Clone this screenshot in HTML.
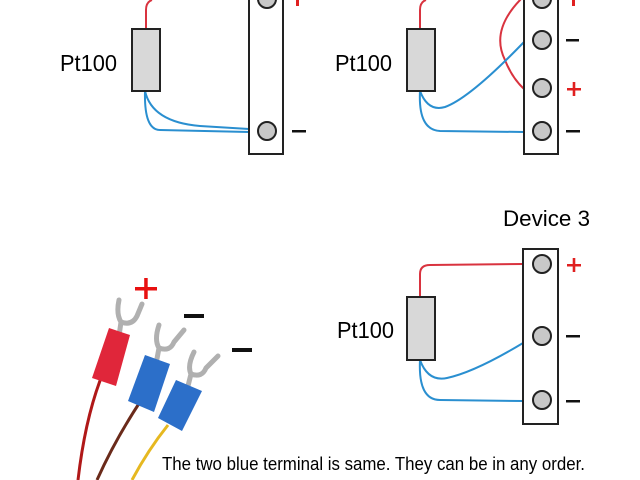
<!DOCTYPE html>
<html><head><meta charset="utf-8"><style>
html,body{margin:0;padding:0;background:#fff;}
svg{display:block;}
text{font-family:"Liberation Sans",sans-serif;}
</style></head><body>
<svg width="640" height="480" viewBox="0 0 640 480" xmlns="http://www.w3.org/2000/svg">
<rect width="640" height="480" fill="#fff"/>
<!-- Panel 1 -->
<path d="M146 29 V10 Q146 2 152 0" fill="none" stroke="#d9333f" stroke-width="2"/>
<path d="M145 91 Q152 122 200 126 L249 129" fill="none" stroke="#2a8fd0" stroke-width="2"/>
<path d="M145 91 Q144 130 160 130 L249 132" fill="none" stroke="#2a8fd0" stroke-width="2"/>
<rect x="132" y="29" width="28" height="62" fill="#d8d8d8" stroke="#222" stroke-width="2"/>
<text x="60" y="71" font-size="23" textLength="57" lengthAdjust="spacingAndGlyphs">Pt100</text>
<rect x="249" y="-5" width="34" height="159" fill="#fff" stroke="#222" stroke-width="2"/>
<circle cx="267" cy="-1" r="9" fill="#c8c8c8" stroke="#222" stroke-width="2"/>
<circle cx="267" cy="131" r="9" fill="#c8c8c8" stroke="#222" stroke-width="2"/>
<rect x="292" y="130" width="14" height="2.5" fill="#111"/>
<rect x="296" y="0" width="3" height="6" fill="#e02020"/>
<!-- Panel 2 -->
<path d="M420 29 V10 Q420 2 426 0" fill="none" stroke="#d9333f" stroke-width="2"/>
<path d="M522 -2 Q490 30 505 60 Q512 78 524 89" fill="none" stroke="#d9333f" stroke-width="2"/>
<path d="M420 91 Q428 112 445 107 Q470 98 524 42" fill="none" stroke="#2a8fd0" stroke-width="2"/>
<path d="M420 91 Q418 130 440 131 L524 132" fill="none" stroke="#2a8fd0" stroke-width="2"/>
<rect x="407" y="29" width="28" height="62" fill="#d8d8d8" stroke="#222" stroke-width="2"/>
<text x="335" y="71" font-size="23" textLength="57" lengthAdjust="spacingAndGlyphs">Pt100</text>
<rect x="524" y="-5" width="34" height="159" fill="#fff" stroke="#222" stroke-width="2"/>
<circle cx="542" cy="-1" r="9" fill="#c8c8c8" stroke="#222" stroke-width="2"/>
<circle cx="542" cy="40" r="9" fill="#c8c8c8" stroke="#222" stroke-width="2"/>
<circle cx="542" cy="88" r="9" fill="#c8c8c8" stroke="#222" stroke-width="2"/>
<circle cx="542" cy="131" r="9" fill="#c8c8c8" stroke="#222" stroke-width="2"/>
<rect x="566" y="39" width="13" height="2.5" fill="#111"/>
<rect x="566" y="130" width="14" height="2.5" fill="#111"/>
<rect x="567" y="88" width="14" height="2.5" fill="#e02020"/><rect x="572.7" y="82" width="2.6" height="14" fill="#e02020"/>
<rect x="572" y="0" width="3" height="6" fill="#e02020"/>
<!-- Panel 3 -->
<text x="503" y="226" font-size="22" textLength="87" lengthAdjust="spacingAndGlyphs">Device 3</text>
<path d="M420 297 V274 Q420 265 430 265 L523 264" fill="none" stroke="#d9333f" stroke-width="2"/>
<path d="M420 360 Q428 382 447 378 Q475 372 523 343" fill="none" stroke="#2a8fd0" stroke-width="2"/>
<path d="M420 360 Q418 400 440 400 L523 401" fill="none" stroke="#2a8fd0" stroke-width="2"/>
<rect x="407" y="297" width="28" height="63" fill="#d8d8d8" stroke="#222" stroke-width="2"/>
<text x="337" y="338" font-size="23" textLength="57" lengthAdjust="spacingAndGlyphs">Pt100</text>
<rect x="523" y="249" width="35" height="175" fill="#fff" stroke="#222" stroke-width="2"/>
<circle cx="542" cy="264" r="9" fill="#c8c8c8" stroke="#222" stroke-width="2"/>
<circle cx="542" cy="336" r="9" fill="#c8c8c8" stroke="#222" stroke-width="2"/>
<circle cx="542" cy="400" r="9" fill="#c8c8c8" stroke="#222" stroke-width="2"/>
<rect x="567" y="264" width="14" height="2.5" fill="#e02020"/><rect x="572.7" y="258" width="2.6" height="14" fill="#e02020"/>
<rect x="566" y="335" width="14" height="2.5" fill="#111"/>
<rect x="566" y="400" width="14" height="2.5" fill="#111"/>
<!-- Photo -->
<path d="M101 378 Q85 420 78 480" fill="none" stroke="#b01818" stroke-width="3"/>
<path d="M140 402 Q115 440 97 480" fill="none" stroke="#6a2a1a" stroke-width="3"/>
<path d="M168 425 Q148 450 132 480" fill="none" stroke="#e6b820" stroke-width="3"/>
<!-- forks -->
<g fill="none" stroke="#b0b0b0" stroke-width="5" stroke-linecap="round" stroke-linejoin="round">
<path d="M119 336 L121 322 Q116 314 119 300 M121 322 Q132 326 137 316 L142 304"/>
<path d="M156 364 L159 348 Q154 340 159 325 M159 348 Q170 352 174 342 L184 330"/>
<path d="M187 390 L191 374 Q187 366 194 352 M191 374 Q202 378 206 368 L218 356"/>
</g>
<path d="M109 328 L130 335 L116 386 L92 378 Z" fill="#e0263a"/>
<path d="M145 355 L170 364 L154 412 L128 401 Z" fill="#2c6fc9"/>
<path d="M176 380 L202 391 L182 431 L158 418 Z" fill="#2c6fc9"/>
<rect x="135" y="287" width="22" height="3.5" fill="#e81010"/><rect x="144.2" y="278" width="3.5" height="21" fill="#e81010"/>
<rect x="184" y="314" width="20" height="4" fill="#111"/>
<rect x="232" y="348" width="20" height="4" fill="#111"/>
<text x="162" y="470" font-size="18" textLength="423" lengthAdjust="spacingAndGlyphs">The two blue terminal is same. They can be in any order.</text>
</svg>
</body></html>
